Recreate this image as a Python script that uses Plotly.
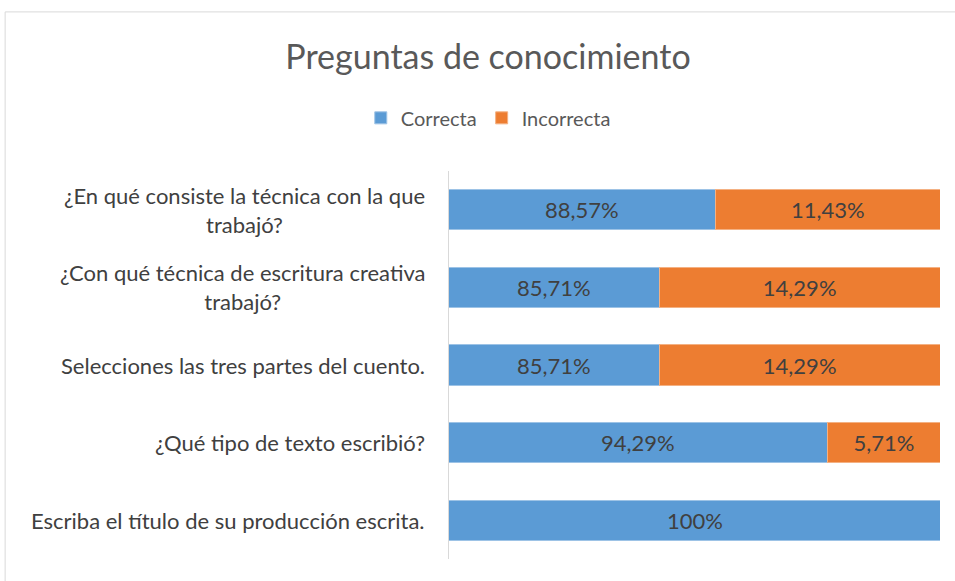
import plotly.graph_objects as go

# --------------------------
# DATA
# --------------------------
preguntas = [
    "¿En qué consiste la técnica con la que<br>trabajó?",
    "¿Con qué técnica de escritura creativa<br>trabajó?",
    "Selecciones las tres partes del cuento.",
    "¿Qué tipo de texto escribió?",
    "Escriba el título de su producción escrita.",
]
correcta = [88.57, 85.71, 85.71, 94.29, 100]
incorrecta = [11.43, 14.29, 14.29, 5.71, 0]
eje_x = [75, 100]  # the original axis starts at 75%


def etiqueta(v):
    if v == 0:
        return ""
    if v == 100:
        return "100%"
    return f"{v:.2f}".replace(".", ",") + "%"


FONT = "Lato, Open Sans, sans-serif"
TXT = dict(color="#404040", size=22, family=FONT)

fig = go.Figure()

fig.add_trace(go.Bar(
    y=preguntas, x=correcta, orientation="h", name="Correcta",
    marker=dict(color="#5b9bd5", line=dict(color="#9dc3e6", width=1)),
    hoverinfo="skip",
))
fig.add_trace(go.Bar(
    y=preguntas, x=incorrecta, orientation="h", name="Incorrecta",
    marker=dict(color="#ed7d31", line=dict(color="#f4b183", width=1)),
    text=[etiqueta(v) for v in incorrecta], textposition="inside",
    insidetextanchor="middle", textangle=0, constraintext="none",
    textfont=TXT,
    hoverinfo="skip",
))

# --------------------------
# LAYOUT
# --------------------------
fig.update_layout(
    width=955, height=581,
    barmode="stack",
    bargap=0.48,
    margin=dict(l=449, r=15, t=171, b=22),
    paper_bgcolor="white",
    plot_bgcolor="white",
    font=dict(family=FONT, color="#595959", size=20),
    title=dict(
        text="Preguntas de conocimiento",
        x=0.511, xanchor="center",
        y=0.902, yanchor="middle",
        font=dict(size=34, color="#595959"),
    ),
    legend=dict(
        orientation="h",
        x=0.08, xanchor="center",
        y=1.137, yanchor="middle",
        font=dict(size=20, color="#595959"),
        traceorder="normal",
    ),
)

fig.update_xaxes(range=eje_x, visible=False, showgrid=False)
fig.update_yaxes(
    autorange="reversed",
    showline=True, linecolor="#d9d9d9", linewidth=1,
    ticks="", showticklabels=False,
    showgrid=False,
)

# category labels, centred lines like the original
for p in preguntas:
    fig.add_annotation(
        x=-0.045, xref="paper", xanchor="right",
        y=p, yref="y", yanchor="middle",
        text=p, align="center", showarrow=False,
        font=dict(size=22, color="#404040", family=FONT),
    )

# "Correcta" labels centred in the visible part of each blue bar
for p, v in zip(preguntas, correcta):
    fig.add_annotation(
        x=(eje_x[0] + v) / 2, xref="x",
        y=p, yref="y", yanchor="middle",
        text=etiqueta(v), showarrow=False, font=TXT,
    )

# outer chart border
fig.add_shape(
    type="rect", xref="paper", yref="paper",
    x0=-0.904, x1=1.2, y0=-0.2, y1=1.41,
    line=dict(color="#d9d9d9", width=1),
    fillcolor="rgba(0,0,0,0)", layer="below",
)

fig.write_html(
    "out.html",
    config={"displayModeBar": False},
    post_script="document.body.style.margin='0';document.body.style.overflow='hidden';",
)
